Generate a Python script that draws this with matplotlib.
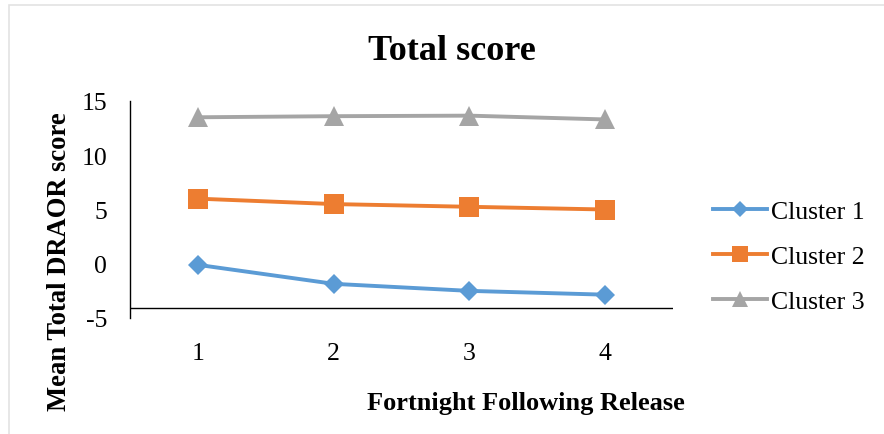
import matplotlib
matplotlib.use("Agg")
import matplotlib.pyplot as plt
from matplotlib.patches import Rectangle
from matplotlib.lines import Line2D

# Data
fortnights = [1, 2, 3, 4]
cluster_1 = [-0.1, -1.85, -2.5, -2.85]
cluster_2 = [6.0, 5.5, 5.25, 5.0]
cluster_3 = [13.5, 13.6, 13.65, 13.3]
series_names = ["Cluster 1", "Cluster 2", "Cluster 3"]
y_ticks = [-5, 0, 5, 10, 15]
axis_cross = -4.1

colors = ["#5B9BD5", "#ED7D31", "#A5A5A5"]
markers = ["D", "s", "^"]
msizes = [10, 14, 14]

plt.rcParams["font.family"] = ["Liberation Serif", "DejaVu Serif"]
plt.rcParams["axes.unicode_minus"] = False

W, H = 884, 435
fig = plt.figure(figsize=(W / 100, H / 100), dpi=100)

# light chart-area border
fig.add_artist(Rectangle((9 / W, -0.05), 1.2, 1 - 6 / H + 0.05,
                         transform=fig.transFigure, fill=False,
                         edgecolor="#E3E3E3", linewidth=1.2))

ax = fig.add_axes([130 / W, 1 - 319 / H, (673 - 130) / W, (319 - 102) / H])

for vals, c, m, ms, name in zip([cluster_1, cluster_2, cluster_3], colors,
                                markers, msizes, series_names):
    ax.plot(fortnights, vals, color=c, marker=m, markersize=ms, linewidth=2.8,
            markeredgewidth=0, label=name, solid_capstyle="round", zorder=3)

ax.set_xlim(0.5, 4.5)
ax.set_ylim(-5, 15)
ax.set_yticks(y_ticks)
ax.set_xticks(fortnights)
ax.set_xticklabels([str(f) for f in fortnights])

for s in ["top", "right", "bottom"]:
    ax.spines[s].set_visible(False)
ax.spines["left"].set_color("black")
ax.spines["left"].set_linewidth(1.0)
ax.axhline(axis_cross, color="black", linewidth=1.0, zorder=2)

ax.tick_params(axis="both", length=0, labelsize=18.5, colors="black")
ax.tick_params(axis="y", pad=16.5)
ax.tick_params(axis="x", pad=17)

fig.text(526 / W, 1 - 404 / H, "Fortnight Following Release", ha="center",
         va="center", fontsize=19, fontweight="bold")
fig.text(60 / W, 1 - 262 / H, "Mean Total DRAOR score", ha="center",
         va="center", rotation=90, fontsize=19.2, fontweight="bold")
fig.text(452 / W, 1 - 51 / H, "Total score", ha="center", va="center",
         fontsize=26, fontweight="bold")

handles = [Line2D([0], [0], color=c, marker=m, markersize=ms * 0.85,
                  linewidth=2.8, markeredgewidth=0)
           for c, m, ms in zip(colors, markers, msizes)]
fig.legend(handles, series_names, loc="center left",
           bbox_to_anchor=(713 / W, 1 - 257.5 / H), frameon=False,
           fontsize=18.5, handlelength=2.1, handletextpad=0.15,
           labelspacing=0.85, borderaxespad=0, borderpad=0)

fig.savefig("out.png", dpi=100, facecolor="white")
